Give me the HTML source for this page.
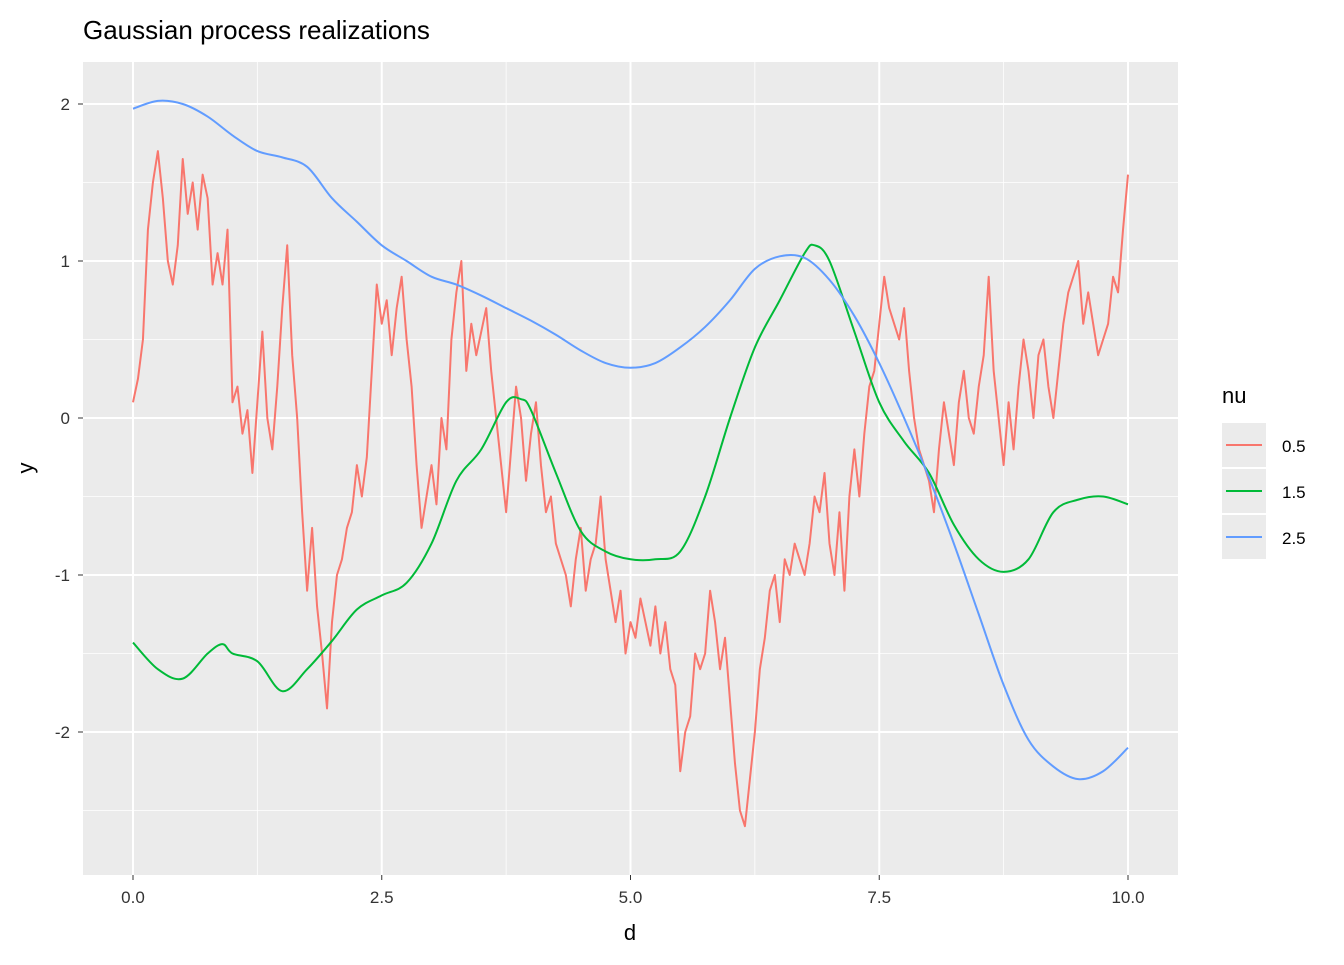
<!DOCTYPE html>
<html><head><meta charset="utf-8"><style>
body{margin:0;background:#fff;font-family:"Liberation Sans",Arial,sans-serif}
</style></head><body>
<svg id="c" width="1344" height="960" xmlns="http://www.w3.org/2000/svg"></svg>
<script>
const dRed=[];for(let i=0;i<=200;i++)dRed.push(i*0.05);
const red=[0.1,0.25,0.5,1.2,1.5,1.7,1.4,1.0,0.85,1.1,1.65,1.3,1.5,1.2,1.55,1.4,0.85,1.05,0.85,1.2,0.1,0.2,-0.1,0.05,-0.35,0.1,0.55,0.0,-0.2,0.2,0.7,1.1,0.4,0.0,-0.6,-1.1,-0.7,-1.2,-1.5,-1.85,-1.3,-1.0,-0.9,-0.7,-0.6,-0.3,-0.5,-0.25,0.3,0.85,0.6,0.75,0.4,0.7,0.9,0.5,0.2,-0.3,-0.7,-0.5,-0.3,-0.55,0.0,-0.2,0.5,0.8,1.0,0.3,0.6,0.4,0.55,0.7,0.3,0.0,-0.3,-0.6,-0.2,0.2,0.0,-0.4,-0.1,0.1,-0.3,-0.6,-0.5,-0.8,-0.9,-1.0,-1.2,-0.9,-0.7,-1.1,-0.9,-0.8,-0.5,-0.9,-1.1,-1.3,-1.1,-1.5,-1.3,-1.4,-1.15,-1.3,-1.45,-1.2,-1.5,-1.3,-1.6,-1.7,-2.25,-2.0,-1.9,-1.5,-1.6,-1.5,-1.1,-1.3,-1.6,-1.4,-1.8,-2.2,-2.5,-2.6,-2.3,-2.0,-1.6,-1.4,-1.1,-1.0,-1.3,-0.9,-1.0,-0.8,-0.9,-1.0,-0.8,-0.5,-0.6,-0.35,-0.8,-1.0,-0.6,-1.1,-0.5,-0.2,-0.5,-0.1,0.2,0.3,0.6,0.9,0.7,0.6,0.5,0.7,0.3,0.0,-0.2,-0.3,-0.4,-0.6,-0.2,0.1,-0.1,-0.3,0.1,0.3,0.0,-0.1,0.2,0.4,0.9,0.3,0.0,-0.3,0.1,-0.2,0.2,0.5,0.3,0.0,0.4,0.5,0.2,0.0,0.3,0.6,0.8,0.9,1.0,0.6,0.8,0.6,0.4,0.5,0.6,0.9,0.8,1.2,1.55];
const dGreen=[0,0.25,0.5,0.75,0.9,1.0,1.25,1.5,1.75,2.0,2.25,2.5,2.75,3.0,3.25,3.5,3.75,3.9,4.0,4.25,4.5,4.75,5.0,5.25,5.5,5.75,6.0,6.25,6.5,6.75,6.85,7.0,7.25,7.5,7.75,8.0,8.25,8.5,8.75,9.0,9.25,9.5,9.75,10.0];
const green=[-1.43,-1.6,-1.66,-1.5,-1.44,-1.5,-1.55,-1.74,-1.6,-1.42,-1.22,-1.13,-1.05,-0.8,-0.4,-0.2,0.1,0.12,0.05,-0.35,-0.72,-0.85,-0.9,-0.9,-0.85,-0.5,0.0,0.45,0.75,1.05,1.1,1.0,0.55,0.1,-0.15,-0.35,-0.68,-0.9,-0.98,-0.9,-0.6,-0.52,-0.5,-0.55];
const dBlue=[0,0.25,0.5,0.75,1.0,1.25,1.5,1.75,2.0,2.25,2.5,2.75,3.0,3.25,3.5,3.75,4.0,4.25,4.5,4.75,5.0,5.25,5.5,5.75,6.0,6.25,6.5,6.75,7.0,7.25,7.5,7.75,8.0,8.25,8.5,8.75,9.0,9.25,9.5,9.75,10.0];
const blue=[1.97,2.02,2.0,1.92,1.8,1.7,1.66,1.6,1.4,1.25,1.1,1.0,0.9,0.85,0.78,0.7,0.62,0.53,0.43,0.35,0.32,0.35,0.45,0.58,0.75,0.95,1.03,1.02,0.88,0.65,0.35,0.0,-0.38,-0.8,-1.25,-1.7,-2.05,-2.22,-2.3,-2.25,-2.1];
const xTicks=[0,2.5,5,7.5,10], xLabels=["0.0","2.5","5.0","7.5","10.0"];
const yTicks=[-2,-1,0,1,2], yLabels=["-2","-1","0","1","2"];
const X=v=>133+v*99.5, Y=v=>418-v*157;
const s=document.getElementById('c'),NS="http://www.w3.org/2000/svg";
function el(t,a,txt){const e=document.createElementNS(NS,t);for(const k in a)e.setAttribute(k,a[k]);if(txt!=null)e.textContent=txt;s.appendChild(e);return e;}
let e=el('rect',{x:83,y:62,width:1095,height:813,fill:'#ebebeb'});

[-2.5,-1.5,-0.5,0.5,1.5].forEach(v=>{const g=el('line',{x1:83,x2:1178,y1:Y(v),y2:Y(v),stroke:'#fff','stroke-width':0.8});});
[1.25,3.75,6.25,8.75].forEach(v=>{const g=el('line',{x1:X(v),x2:X(v),y1:62,y2:875,stroke:'#fff','stroke-width':0.8});});
yTicks.forEach((v,i)=>{const g=el('line',{x1:83,x2:1178,y1:Y(v),y2:Y(v),stroke:'#fff','stroke-width':2});
const t=el('text',{x:70,y:Y(v)+6,'text-anchor':'end','font-size':17,fill:'#333'},yLabels[i]);
const k=el('line',{x1:78,x2:83,y1:Y(v),y2:Y(v),stroke:'#333','stroke-width':1});});
xTicks.forEach((v,i)=>{const g=el('line',{x1:X(v),x2:X(v),y1:62,y2:875,stroke:'#fff','stroke-width':2});
const t=el('text',{x:X(v),y:903,'text-anchor':'middle','font-size':17,fill:'#333'},xLabels[i]);
const k=el('line',{x1:X(v),x2:X(v),y1:875,y2:880,stroke:'#333','stroke-width':1});});
function line(xs,ys,col,name){const p=el('polyline',{points:xs.map((x,i)=>X(x)+','+Y(ys[i])).join(' '),fill:'none',stroke:col,'stroke-width':2,'stroke-linejoin':'round'});}
function curve(xs,ys,col,name){const P=xs.map((x,i)=>[X(x),Y(ys[i])]);let d='M'+P[0][0]+','+P[0][1];
for(let i=0;i<P.length-1;i++){const p0=P[Math.max(i-1,0)],p1=P[i],p2=P[i+1],p3=P[Math.min(i+2,P.length-1)];
d+=` C${p1[0]+(p2[0]-p0[0])/6},${p1[1]+(p2[1]-p0[1])/6} ${p2[0]-(p3[0]-p1[0])/6},${p2[1]-(p3[1]-p1[1])/6} ${p2[0]},${p2[1]}`;}
const p=el('path',{d:d,fill:'none',stroke:col,'stroke-width':2});}
line(dRed,red,'#f8766d','series-nu-0.5');
curve(dGreen,green,'#00ba38','series-nu-1.5');
curve(dBlue,blue,'#619cff','series-nu-2.5');
e=el('text',{x:83,y:39,'font-size':26,fill:'#000'},'Gaussian process realizations');
e=el('text',{x:630,y:940,'text-anchor':'middle','font-size':22,fill:'#000'},'d');
e=el('text',{x:40,y:468,'text-anchor':'middle','font-size':22,fill:'#000',transform:'rotate(-90 40 468) translate(0 -7)'},'y');
e=el('text',{x:1222,y:403,'font-size':22,fill:'#000'},'nu');
[['0.5','#f8766d'],['1.5','#00ba38'],['2.5','#619cff']].forEach((l,i)=>{const y0=423+i*46;
const r=el('rect',{x:1222,y:y0,width:44,height:44,fill:'#ebebeb'});
const q=el('line',{x1:1226,x2:1262,y1:y0+22,y2:y0+22,stroke:l[1],'stroke-width':2});
const t=el('text',{x:1282,y:y0+29,'font-size':17,fill:'#000'},l[0]);});
</script>
</body></html>
